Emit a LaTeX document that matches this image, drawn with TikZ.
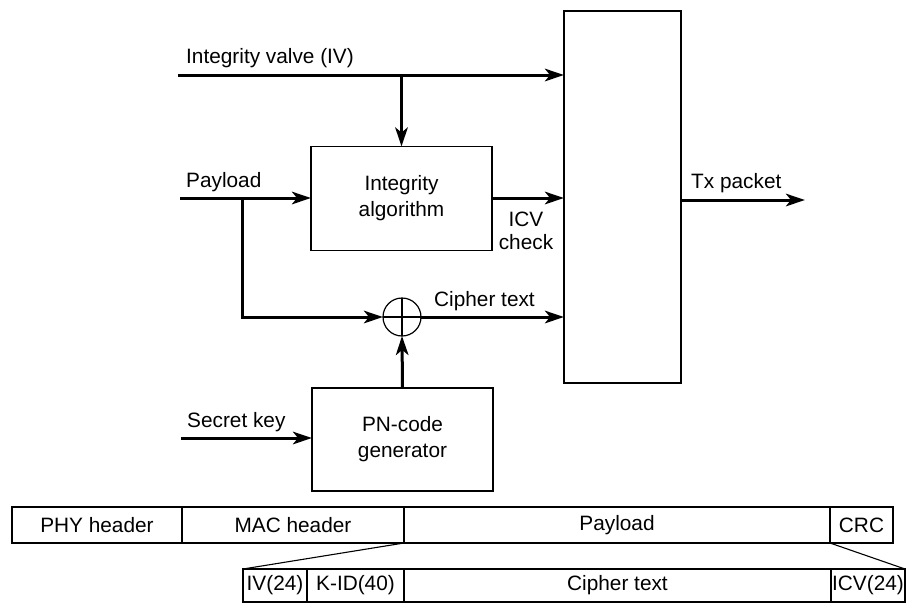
\documentclass[tikz,border=0pt]{standalone}
\usepackage{fontspec}
\setmainfont{Liberation Sans}
\usetikzlibrary{arrows.meta}
\begin{document}
\begin{tikzpicture}[x=1pt,y=-1pt,
  font=\fontsize{20.8}{26}\selectfont,
  box/.style={draw,line width=1.2pt,rectangle,inner sep=0pt,outer sep=0pt,align=center},
  cell/.style={draw,line width=1.1pt,rectangle,inner sep=0pt,outer sep=0pt,minimum height=36pt},
  bcell/.style={draw,line width=1.1pt,rectangle,inner sep=0pt,outer sep=0pt,minimum height=33pt},
  flow/.style={line width=3pt,-{Stealth[length=19pt,width=12.5pt,inset=5pt]}},
  lbl/.style={inner sep=0pt,anchor=base west}]
\useasboundingbox (0,0) rectangle (906,603);

% blocks
\node[box,minimum width=117pt,minimum height=372pt] (tx) at (622.5,197) {};
\node[box,minimum width=181pt,minimum height=104pt] (ia) at (401.5,198.5) {Integrity\\algorithm};
\node[box,minimum width=181pt,minimum height=103pt] (pn) at (402.5,439.5) {PN-code\\generator};
\node[draw,circle,line width=1.2pt,minimum size=38pt,inner sep=0pt,outer sep=0pt] (xor) at (402,317) {};
\draw[line width=1.4pt] (xor.west) -- (xor.east) (xor.north) -- (xor.south);

% inputs and outputs
\coordinate (ivin) at (178,75);
\coordinate (plin) at (180,198);
\coordinate (skin) at (181,438);
\coordinate (plbr) at (242,198);
\coordinate (txout) at (805,200);

\draw[flow] (ivin) -- (tx.west |- ivin);
\draw[flow] (ia.north |- ivin) -- (ia.north);
\draw[flow] (plin) -- (ia.west |- plin);
\draw[flow] (plbr) |- (xor.west);
\draw[flow] (ia.east |- plin) -- (tx.west |- plin);
\draw[flow] (xor.east) -- (tx.west |- xor.east);
\draw[flow] (pn.north) -- (xor.south);
\draw[flow] (skin) -- (pn.west |- skin);
\draw[flow] (tx.east |- txout) -- (txout);

% labels
\node[lbl] (livl) at (186,63) {Integrity valve (IV)};
\node[lbl] (lpl) at (186,187) {Payload};
\node[lbl] (lsk) at (187,427) {Secret key};
\node[lbl] (lct) at (434,306) {Cipher text};
\node[lbl] (ltx) at (691,188) {Tx packet};
\node[inner sep=0pt,align=center,font=\fontsize{20.8}{23}\selectfont] (licv) at (526,231) {ICV\\check};

% frame layout, top row
\node[cell,minimum width=170pt] (phy) at (97,525) {PHY header};
\node[cell,minimum width=222pt] (mac) at (293,525) {MAC header};
\node[cell,minimum width=426pt] (pay) at (617,525) {Payload};
\node[cell,minimum width=63pt] (crc) at (861.5,525) {CRC};

% frame layout, expanded payload
\node[bcell,minimum width=64pt] (iv) at (275,585.5) {IV(24)};
\node[bcell,minimum width=97pt] (kid) at (355.5,585.5) {K-ID(40)};
\node[bcell,minimum width=427pt] (ct) at (617.5,585.5) {Cipher text};
\node[bcell,minimum width=74pt] (icv) at (868,585.5) {ICV(24)};

\draw[line width=1.1pt] (pay.south west) -- (iv.north west);
\draw[line width=1.1pt] (pay.south east) -- (icv.north east);
\end{tikzpicture}
\end{document}
